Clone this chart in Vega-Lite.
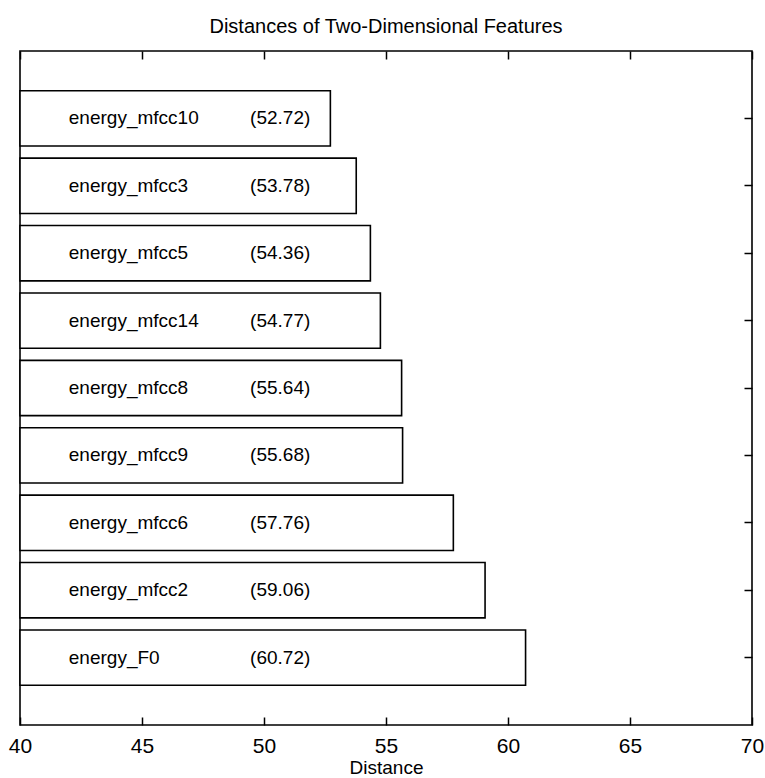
{
  "$schema": "https://vega.github.io/schema/vega-lite/v6.json",
  "width": 732,
  "height": 674,
  "autosize": {"type": "none"},
  "padding": {"left": 20, "top": 51, "right": 13, "bottom": 53},
  "background": "white",
  "title": {
    "text": "Distances of Two-Dimensional Features",
    "fontSize": 20,
    "font": "Liberation Sans",
    "fontWeight": "normal",
    "color": "black",
    "baseline": "alphabetic",
    "offset": -3,
    "anchor": "middle"
  },
  "data": {
    "values": [
      {"feature": "energy_mfcc10", "distance": 52.72, "label": "(52.72)"},
      {"feature": "energy_mfcc3", "distance": 53.78, "label": "(53.78)"},
      {"feature": "energy_mfcc5", "distance": 54.36, "label": "(54.36)"},
      {"feature": "energy_mfcc14", "distance": 54.77, "label": "(54.77)"},
      {"feature": "energy_mfcc8", "distance": 55.64, "label": "(55.64)"},
      {"feature": "energy_mfcc9", "distance": 55.68, "label": "(55.68)"},
      {"feature": "energy_mfcc6", "distance": 57.76, "label": "(57.76)"},
      {"feature": "energy_mfcc2", "distance": 59.06, "label": "(59.06)"},
      {"feature": "energy_F0", "distance": 60.72, "label": "(60.72)"}
    ]
  },
  "layer": [
    {
      "mark": {"type": "bar", "fill": "white", "stroke": "black", "strokeWidth": 1.6},
      "encoding": {
        "y": {
          "field": "feature",
          "type": "nominal",
          "sort": {"field": "distance", "order": "ascending"},
          "scale": {"paddingInner": 0.18, "paddingOuter": 0.59},
          "axis": {"orient": "left", "labels": false, "title": null, "domain": false, "tickSize": -6, "tickColor": "black", "tickWidth": 1.5}
        },
        "x": {
          "field": "distance",
          "type": "quantitative",
          "scale": {"domain": [40, 70], "zero": false, "nice": false},
          "axis": {
            "orient": "bottom",
            "values": [40, 45, 50, 55, 60, 65, 70],
            "domain": false,
            "tickSize": -8,
            "tickColor": "black",
            "tickWidth": 1.5,
            "grid": false,
            "labelFlush": false,
            "labelOverlap": false,
            "labelPadding": 18,
            "labelFontSize": 21,
            "labelFont": "Liberation Sans",
            "labelColor": "black",
            "title": "Distance",
            "titleFontSize": 19,
            "titleFont": "Liberation Sans",
            "titleFontWeight": "normal",
            "titleColor": "black",
            "titlePadding": 2
          }
        },
        "x2": {"datum": 40}
      }
    },
    {
      "mark": {"type": "text", "align": "left", "baseline": "middle", "fontSize": 19, "font": "Liberation Sans", "color": "black"},
      "encoding": {
        "y": {
          "field": "feature",
          "type": "nominal",
          "sort": {"field": "distance", "order": "ascending"},
          "axis": {"orient": "right", "labels": false, "title": null, "domain": false, "tickSize": -8, "tickColor": "black", "tickWidth": 1.5}
        },
        "x": {
          "datum": 42,
          "type": "quantitative",
          "axis": {"orient": "top", "labels": false, "title": null, "domain": false, "values": [40, 45, 50, 55, 60, 65, 70], "tickSize": -8, "tickColor": "black", "tickWidth": 1.5, "grid": false}
        },
        "text": {"field": "feature"}
      }
    },
    {
      "mark": {"type": "text", "align": "left", "baseline": "middle", "fontSize": 19, "font": "Liberation Sans", "color": "black"},
      "encoding": {
        "y": {
          "field": "feature",
          "type": "nominal",
          "sort": {"field": "distance", "order": "ascending"},
          "axis": null
        },
        "x": {"datum": 49.43, "type": "quantitative", "axis": null},
        "text": {"field": "label"}
      }
    }
  ],
  "resolve": {"axis": {"x": "independent", "y": "independent"}},
  "config": {
    "view": {"stroke": "black", "strokeWidth": 1.6},
    "font": "Liberation Sans"
  }
}
